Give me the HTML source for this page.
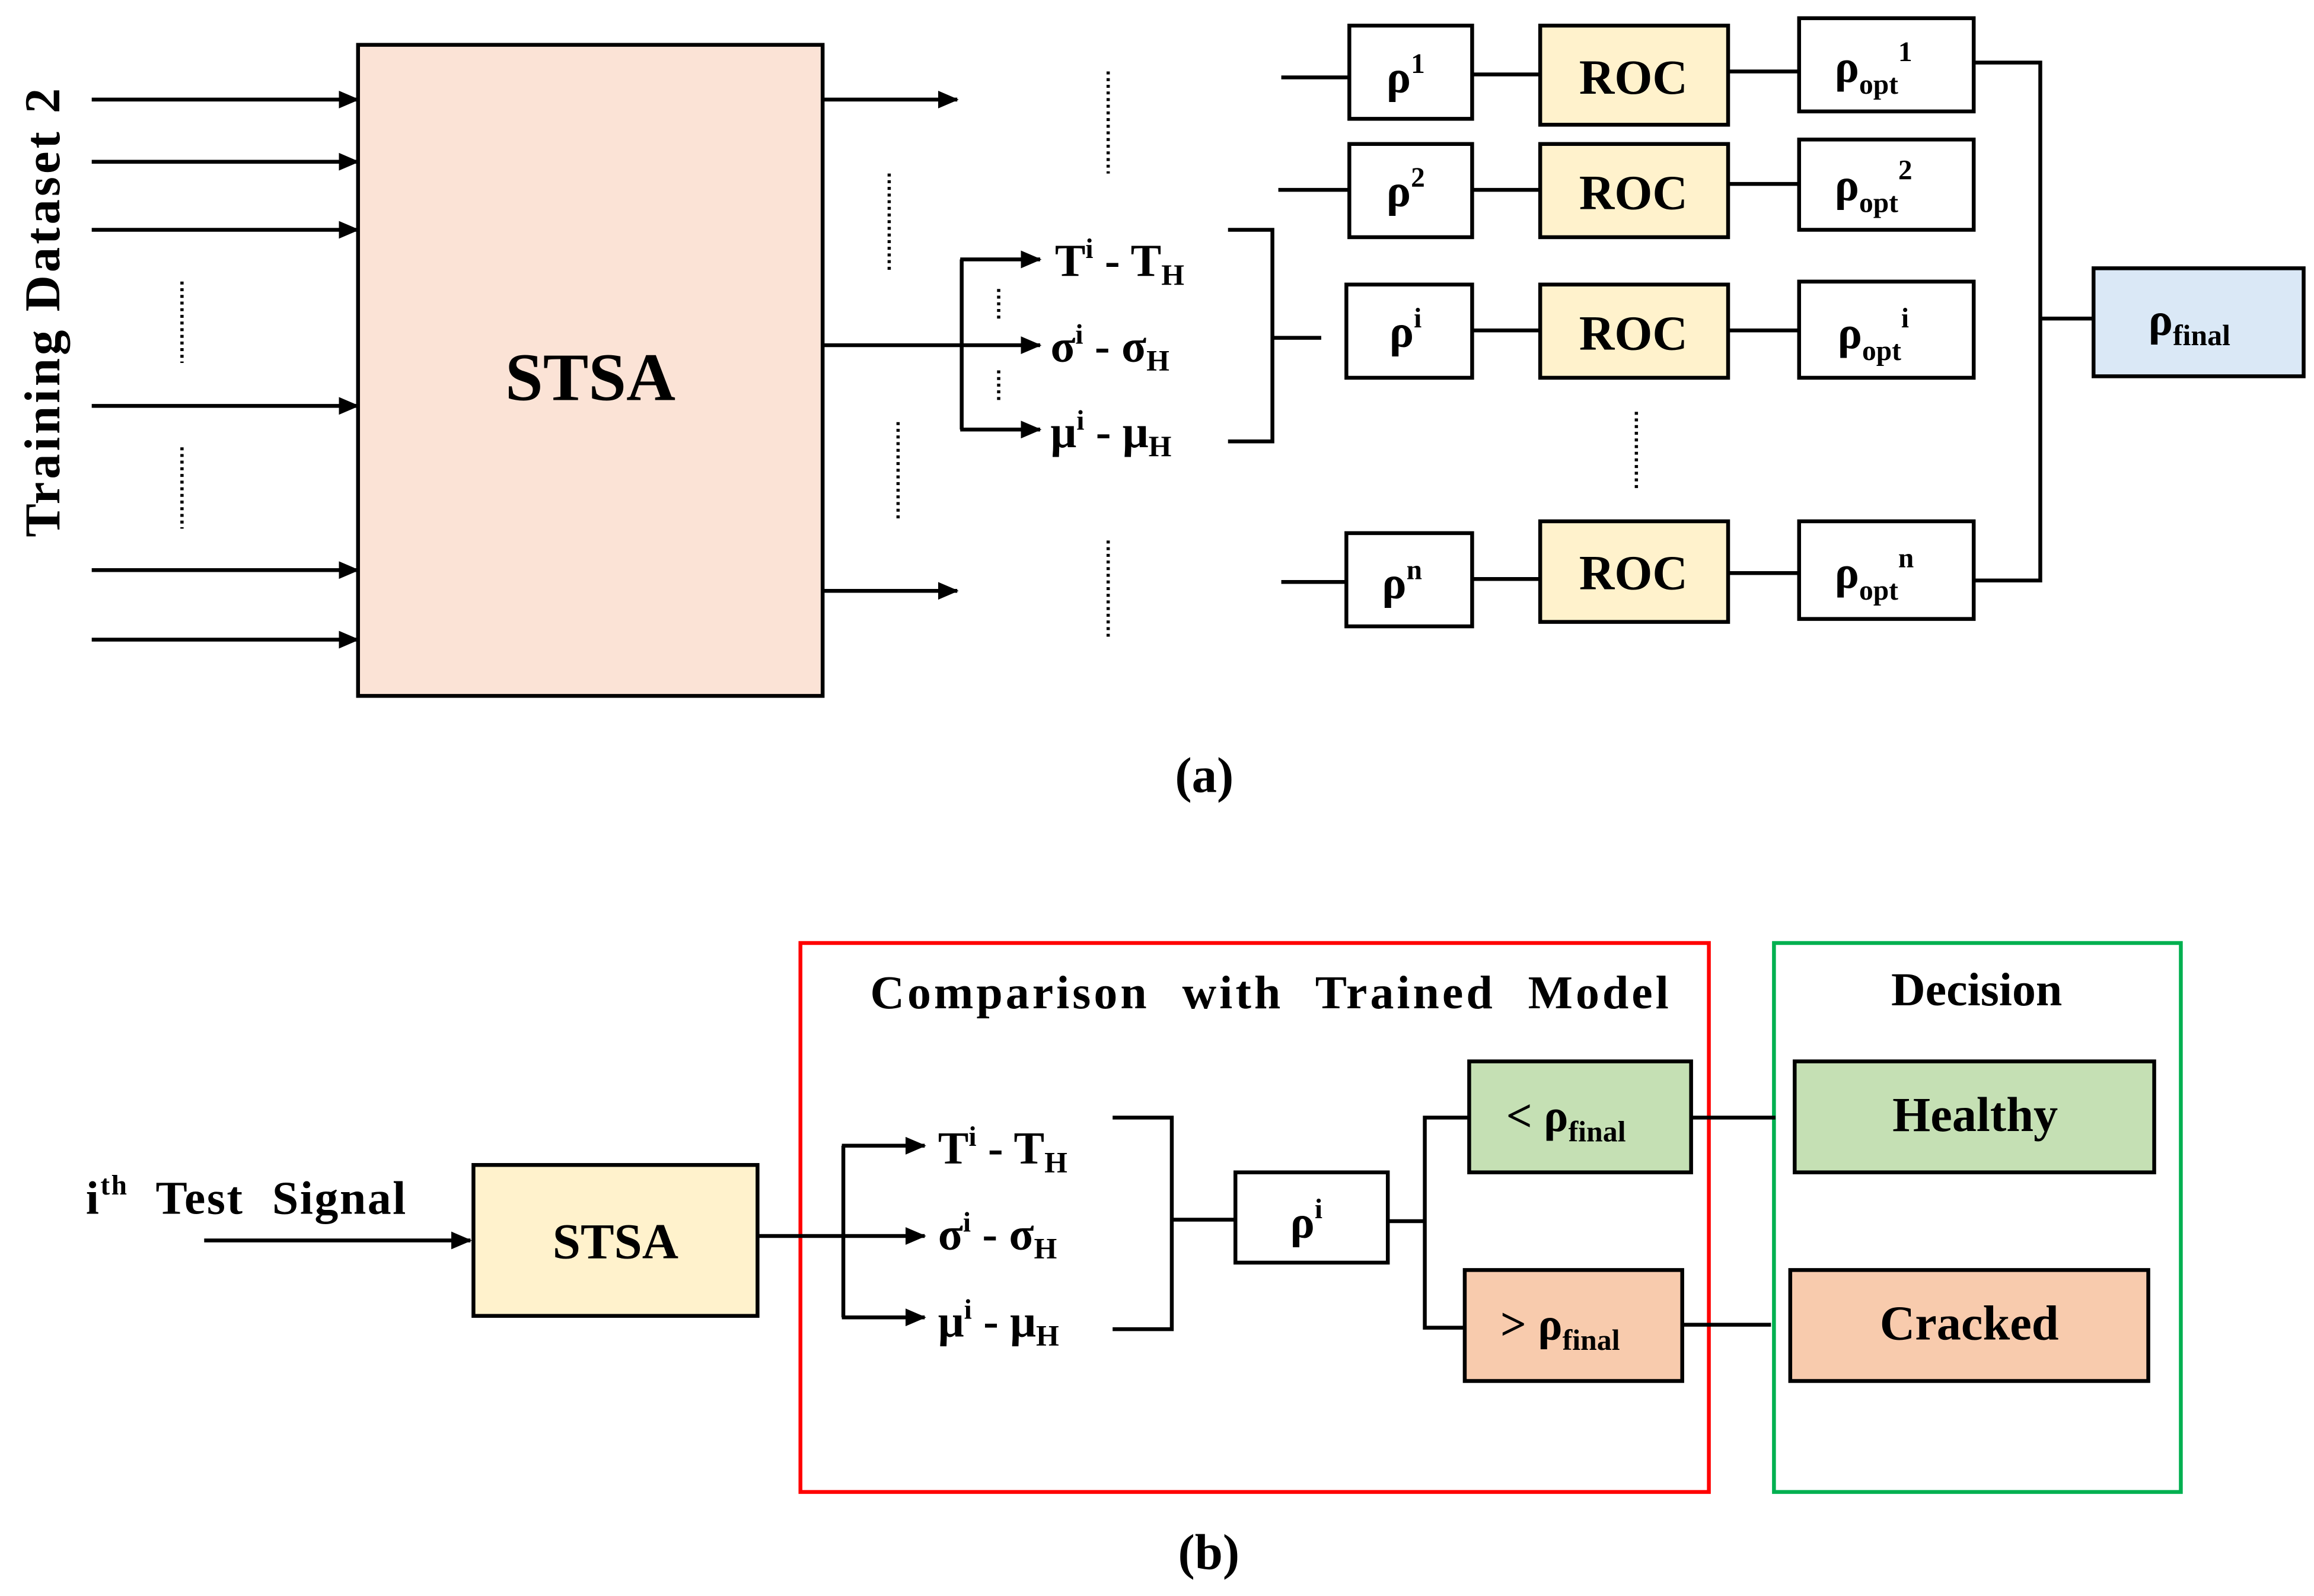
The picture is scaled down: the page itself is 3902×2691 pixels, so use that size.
<!DOCTYPE html>
<html><head><meta charset="utf-8"><style>
html,body{margin:0;padding:0;background:#fff;}
svg{display:block;}
text{font-family:"Liberation Serif",serif;font-weight:bold;fill:#000;}
</style></head><body>
<svg width="3902" height="2691" viewBox="0 0 1564 1078" xmlns="http://www.w3.org/2000/svg">
<defs>
<marker id="a2" markerWidth="14" markerHeight="12" refX="13" refY="6" orient="auto" markerUnits="userSpaceOnUse" viewBox="0 0 14 12">
<path d="M0,0 L14,6 L0,12 z" fill="#000"/></marker>
</defs>
<g stroke="#000" stroke-width="2.6" fill="none">
<line x1="62" y1="67" x2="242" y2="67" marker-end="url(#a2)"/>
<line x1="62" y1="109" x2="242" y2="109" marker-end="url(#a2)"/>
<line x1="62" y1="155" x2="242" y2="155" marker-end="url(#a2)"/>
<line x1="62" y1="274" x2="242" y2="274" marker-end="url(#a2)"/>
<line x1="62" y1="385" x2="242" y2="385" marker-end="url(#a2)"/>
<line x1="62" y1="432" x2="242" y2="432" marker-end="url(#a2)"/>
<g stroke-dasharray="2,2.5" stroke-width="2.2">
<line x1="123" y1="190" x2="123" y2="245"/>
<line x1="123" y1="302" x2="123" y2="357"/>
<line x1="601" y1="117" x2="601" y2="182"/>
<line x1="607" y1="285" x2="607" y2="350"/>
<line x1="749" y1="48" x2="749" y2="117"/>
<line x1="749" y1="365" x2="749" y2="432"/>
<line x1="675" y1="195" x2="675" y2="216"/>
<line x1="675" y1="250" x2="675" y2="271"/>
<line x1="1106" y1="278" x2="1106" y2="330"/>
</g>
<rect x="242" y="30" width="314" height="440" fill="#fbe3d6"/>
<line x1="556" y1="67" x2="647" y2="67" marker-end="url(#a2)"/>
<line x1="556" y1="399" x2="647" y2="399" marker-end="url(#a2)"/>
<line x1="556" y1="233" x2="650" y2="233"/>
<line x1="650" y1="175" x2="650" y2="290"/>
<line x1="649" y1="175" x2="703" y2="175" marker-end="url(#a2)"/>
<line x1="650" y1="233" x2="703" y2="233" marker-end="url(#a2)"/>
<line x1="649" y1="290" x2="703" y2="290" marker-end="url(#a2)"/>
<polyline points="830,155 860,155 860,298 830,298"/>
<line x1="860" y1="228" x2="893" y2="228"/>
<line x1="866" y1="52" x2="912" y2="52"/>
<line x1="864" y1="128" x2="912" y2="128"/>
<line x1="866" y1="393" x2="910" y2="393"/>
<rect x="912" y="17" width="83" height="63"/>
<rect x="912" y="97" width="83" height="63"/>
<rect x="910" y="192" width="85" height="63"/>
<rect x="910" y="360" width="85" height="63"/>
<line x1="995" y1="50" x2="1041" y2="50"/>
<line x1="995" y1="128" x2="1041" y2="128"/>
<line x1="995" y1="223" x2="1041" y2="223"/>
<line x1="995" y1="391" x2="1041" y2="391"/>
<rect x="1041" y="17" width="127" height="67" fill="#fff2cc"/>
<rect x="1041" y="97" width="127" height="63" fill="#fff2cc"/>
<rect x="1041" y="192" width="127" height="63" fill="#fff2cc"/>
<rect x="1041" y="352" width="127" height="68" fill="#fff2cc"/>
<line x1="1168" y1="48" x2="1216" y2="48"/>
<line x1="1168" y1="124" x2="1216" y2="124"/>
<line x1="1168" y1="223" x2="1216" y2="223"/>
<line x1="1168" y1="387" x2="1216" y2="387"/>
<rect x="1216" y="12" width="118" height="63"/>
<rect x="1216" y="94" width="118" height="61"/>
<rect x="1216" y="190" width="118" height="65"/>
<rect x="1216" y="352" width="118" height="66"/>
<polyline points="1334,42 1379,42 1379,392 1334,392"/>
<line x1="1379" y1="215" x2="1415" y2="215"/>
<rect x="1415" y="181" width="142" height="73" fill="#dae8f6"/>
<rect x="541" y="637" width="614" height="371" stroke="#ff0000"/>
<rect x="1199" y="637" width="275" height="371" stroke="#00b050"/>
<line x1="138" y1="838" x2="318" y2="838" marker-end="url(#a2)"/>
<rect x="320" y="787" width="192" height="102" fill="#fff2cc"/>
<line x1="512" y1="835" x2="570" y2="835"/>
<line x1="570" y1="774" x2="570" y2="890"/>
<line x1="569" y1="774" x2="625" y2="774" marker-end="url(#a2)"/>
<line x1="570" y1="835" x2="625" y2="835" marker-end="url(#a2)"/>
<line x1="569" y1="890" x2="625" y2="890" marker-end="url(#a2)"/>
<polyline points="752,755 792,755 792,898 752,898"/>
<line x1="792" y1="824" x2="835" y2="824"/>
<rect x="835" y="792" width="103" height="61"/>
<line x1="938" y1="825" x2="963" y2="825"/>
<polyline points="993,755 963,755 963,897 990,897"/>
<rect x="993" y="717" width="150" height="75" fill="#c5e0b4"/>
<rect x="990" y="858" width="147" height="75" fill="#f8cbad"/>
<line x1="1143" y1="755" x2="1200" y2="755"/>
<line x1="1137" y1="895" x2="1197" y2="895"/>
<rect x="1213" y="717" width="243" height="75" fill="#c5e0b4"/>
<rect x="1210" y="858" width="242" height="75" fill="#f8cbad"/>
</g>
<text transform="translate(40,210) rotate(-90)" font-size="34" letter-spacing="2" text-anchor="middle">Training Dataset 2</text>
<text x="399" y="270" font-size="46" text-anchor="middle">STSA</text>
<g font-size="31">
<text x="713" y="186">T<tspan font-size="19" dy="-12">i</tspan><tspan dy="12"> - T</tspan><tspan font-size="20" dy="6">H</tspan></text>
<text x="710" y="244">σ<tspan font-size="19" dy="-12">i</tspan><tspan dy="12"> - σ</tspan><tspan font-size="20" dy="6">H</tspan></text>
<text x="710" y="302">μ<tspan font-size="19" dy="-12">i</tspan><tspan dy="12"> - μ</tspan><tspan font-size="20" dy="6">H</tspan></text>
<text x="937" y="62">ρ<tspan font-size="19" dy="-13">1</tspan></text>
<text x="937" y="139">ρ<tspan font-size="19" dy="-13">2</tspan></text>
<text x="939" y="234">ρ<tspan font-size="19" dy="-13">i</tspan></text>
<text x="934" y="404">ρ<tspan font-size="19" dy="-13">n</tspan></text>
<text x="1240" y="55">ρ<tspan font-size="19" dy="8">opt</tspan><tspan font-size="19" dy="-22">1</tspan></text>
<text x="1240" y="135">ρ<tspan font-size="19" dy="8">opt</tspan><tspan font-size="19" dy="-22">2</tspan></text>
<text x="1242" y="235">ρ<tspan font-size="19" dy="8">opt</tspan><tspan font-size="19" dy="-22">i</tspan></text>
<text x="1240" y="397">ρ<tspan font-size="19" dy="8">opt</tspan><tspan font-size="19" dy="-22">n</tspan></text>
<text x="1452" y="226">ρ<tspan font-size="20" dy="7">final</tspan></text>
</g>
<g font-size="33" text-anchor="middle">
<text x="1104" y="63">ROC</text>
<text x="1104" y="141">ROC</text>
<text x="1104" y="236">ROC</text>
<text x="1104" y="398">ROC</text>
</g>
<text x="814" y="535" font-size="34" text-anchor="middle">(a)</text>
<text x="859" y="681" font-size="32" text-anchor="middle" letter-spacing="2" word-spacing="12">Comparison with Trained Model</text>
<text x="1336" y="679" font-size="32" text-anchor="middle">Decision</text>
<text x="58" y="820" font-size="32" letter-spacing="1" word-spacing="10">i<tspan font-size="19" dy="-13">th</tspan><tspan dy="13"> Test Signal</tspan></text>
<text x="416" y="850" font-size="34" text-anchor="middle">STSA</text>
<g font-size="31">
<text x="634" y="786">T<tspan font-size="19" dy="-12">i</tspan><tspan dy="12"> - T</tspan><tspan font-size="20" dy="6">H</tspan></text>
<text x="634" y="844">σ<tspan font-size="19" dy="-12">i</tspan><tspan dy="12"> - σ</tspan><tspan font-size="20" dy="6">H</tspan></text>
<text x="634" y="903">μ<tspan font-size="19" dy="-12">i</tspan><tspan dy="12"> - μ</tspan><tspan font-size="20" dy="6">H</tspan></text>
<text x="872" y="836">ρ<tspan font-size="19" dy="-13">i</tspan></text>
<text x="1018" y="764">&lt; ρ<tspan font-size="20" dy="7">final</tspan></text>
<text x="1014" y="905">&gt; ρ<tspan font-size="20" dy="7">final</tspan></text>
</g>
<text x="1335" y="764" font-size="33" text-anchor="middle">Healthy</text>
<text x="1331" y="905" font-size="33" text-anchor="middle">Cracked</text>
<text x="817" y="1060" font-size="34" text-anchor="middle">(b)</text>
</svg>
</body></html>
